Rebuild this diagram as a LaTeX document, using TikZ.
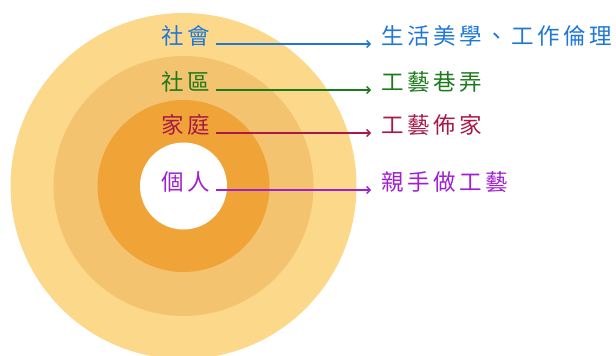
\documentclass[tikz,border=0pt]{standalone}
\usepackage{fontspec}
\newfontfamily\cjk[LetterSpace=16]{Noto Sans CJK TC}
\usetikzlibrary{arrows.meta}
\definecolor{ringout}{HTML}{FCD98A}
\definecolor{ringmid}{HTML}{F3C370}
\definecolor{ringin}{HTML}{F0A437}
\definecolor{socblue}{HTML}{1F78D8}
\definecolor{comgreen}{HTML}{1C7A1C}
\definecolor{famred}{HTML}{A81848}
\definecolor{indpurple}{HTML}{A020D0}
\begin{document}
\begin{tikzpicture}
    [ x=1pt, y=-1pt
    , every node/.style={font=\cjk\fontsize{22.5}{24}\selectfont, inner sep=0pt, anchor=base west}
    , ring/.style={draw=none}
    , link/.style={line width=1.3pt, -{Straight Barb[length=3.5pt,width=7pt]}, shorten <=6pt, shorten >=10pt}
    ]

    \useasboundingbox (0,0) rectangle (616,356);
    \clip (0,0) rectangle (616,356);

    % rings
    \fill [ring, ringout] (183.5,186) circle [radius=173];
    \fill [ring, ringmid] (183.5,186) circle [radius=130];
    \fill [ring, ringin]  (183.5,186) circle [radius=86];
    \fill [ring, white]   (183.5,186) circle [radius=43.5];

    % left labels
    \node [socblue]   (soc) at (161,44)  {社會};
    \node [comgreen]  (com) at (161,90)  {社區};
    \node [famred]    (fam) at (161,133) {家庭};
    \node [indpurple] (ind) at (161,190) {個人};

    % right labels
    \node [socblue]   (socT) at (381,44)  {生活美學、工作倫理};
    \node [comgreen]  (comT) at (381,90)  {工藝巷弄};
    \node [famred]    (famT) at (381,133) {工藝佈家};
    \node [indpurple] (indT) at (381,190) {親手做工藝};

    \draw [link, socblue]   (soc.base east) -- (socT.base west);
    \draw [link, comgreen]  (com.base east) -- (comT.base west);
    \draw [link, famred]    (fam.base east) -- (famT.base west);
    \draw [link, indpurple] (ind.base east) -- (indT.base west);

\end{tikzpicture}
\end{document}
